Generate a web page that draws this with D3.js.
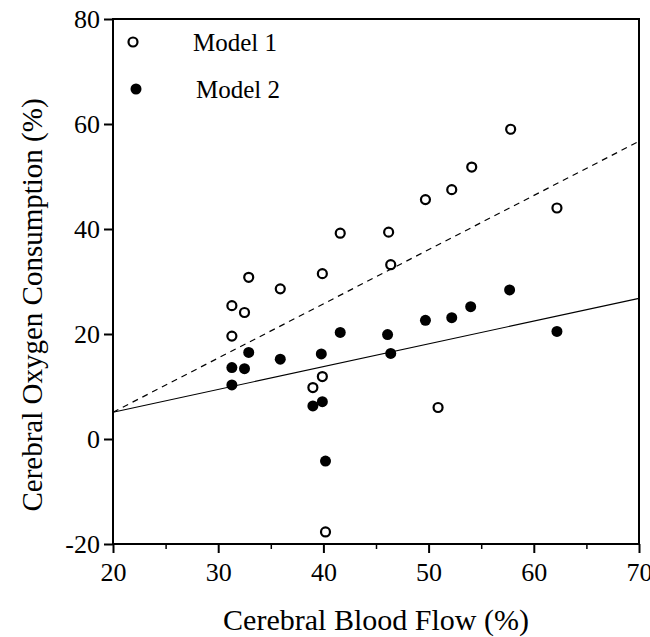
<!DOCTYPE html>
<html>
<head>
<meta charset="utf-8">
<script src="https://cdn.jsdelivr.net/npm/d3@7"></script>
<style>
  body { margin: 0; background: #fff; }
  svg text { font-family: "Liberation Serif", "Times New Roman", serif; fill: #000; }
</style>
</head>
<body>
<div id="chart"></div>
<script>
// values
const model1 = [
  [31.3, 25.4], [31.3, 19.6], [32.5, 24.1], [32.9, 30.8], [35.9, 28.6], [39.0, 9.8],
  [39.9, 11.9], [39.9, 31.5], [40.2, -17.7], [41.6, 39.2], [46.2, 39.4], [46.4, 33.2],
  [49.7, 45.6], [50.9, 6.0], [52.2, 47.5], [54.1, 51.8], [57.8, 59.0], [62.2, 44.0]
];
const model2 = [
  [31.3, 13.6], [31.3, 10.3], [32.5, 13.4], [32.9, 16.5], [35.9, 15.2], [39.0, 6.3],
  [39.9, 7.1], [39.8, 16.2], [40.2, -4.2], [41.6, 20.3], [46.1, 19.9], [46.4, 16.3],
  [49.7, 22.6], [54.0, 25.2], [52.2, 23.1], [57.7, 28.4], [62.2, 20.5]
];
const fitX = [20, 70];
const model1Fit = [5.1, 56.7];
const model2Fit = [5.1, 26.8];
const xTicks = [20, 30, 40, 50, 60, 70];
const xMinorTicks = [25, 35, 45, 55, 65];
const yTicks = [-20, 0, 20, 40, 60, 80];
const legendLabels = ["Model 1", "Model 2"];

const margin = {top: 19, right: 11, bottom: 93, left: 113};
const W = 650, H = 637;
const width = W - margin.left - margin.right;
const height = H - margin.top - margin.bottom;

const svg = d3.select("#chart").append("svg")
    .attr("width", W)
    .attr("height", H);

const g = svg.append("g")
    .attr("transform", `translate(${margin.left},${margin.top})`);

const x = d3.scaleLinear().domain([20, 70]).range([0, width]);
const y = d3.scaleLinear().domain([-20, 80]).range([height, 0]);

// plain hyphen for negatives, like the original
const fmt = d => String(d);

// minor x ticks
g.append("g")
    .attr("transform", `translate(0,${height})`)
    .call(d3.axisBottom(x).tickValues(xMinorTicks).tickSize(5).tickFormat(""))
    .call(a => a.select(".domain").remove())
    .selectAll("line").attr("stroke-width", 1.5);

// major x ticks
const xAxisG = g.append("g")
    .attr("transform", `translate(0,${height})`)
    .call(d3.axisBottom(x).tickValues(xTicks).tickSize(9).tickPadding(10).tickFormat(fmt));
xAxisG.select(".domain").remove();
xAxisG.selectAll("line").attr("stroke-width", 2);
xAxisG.selectAll("text").attr("font-size", 26);

const yAxisG = g.append("g")
    .call(d3.axisLeft(y).tickValues(yTicks).tickSize(9).tickPadding(4).tickFormat(fmt));
yAxisG.select(".domain").remove();
yAxisG.selectAll("line").attr("stroke-width", 2);
yAxisG.selectAll("text").attr("font-size", 26);

// frame
g.append("rect")
    .attr("width", width)
    .attr("height", height)
    .attr("fill", "none")
    .attr("stroke", "#000")
    .attr("stroke-width", 2);

// regression lines
const line = d3.line().x(d => x(d[0])).y(d => y(d[1]));
g.append("path")
    .datum(fitX.map((v, i) => [v, model1Fit[i]]))
    .attr("d", line)
    .attr("fill", "none")
    .attr("stroke", "#000")
    .attr("stroke-width", 1.2)
    .attr("stroke-dasharray", "6,5");
g.append("path")
    .datum(fitX.map((v, i) => [v, model2Fit[i]]))
    .attr("d", line)
    .attr("fill", "none")
    .attr("stroke", "#000")
    .attr("stroke-width", 1.2);

// points
g.append("g").selectAll("circle")
  .data(model1)
  .enter().append("circle")
    .attr("cx", d => x(d[0]))
    .attr("cy", d => y(d[1]))
    .attr("r", 4.5)
    .attr("fill", "#fff")
    .attr("stroke", "#000")
    .attr("stroke-width", 2.2);

g.append("g").selectAll("circle")
  .data(model2)
  .enter().append("circle")
    .attr("cx", d => x(d[0]))
    .attr("cy", d => y(d[1]))
    .attr("r", 5.5)
    .attr("fill", "#000");

// legend
const legend = svg.append("g");
legend.append("circle")
    .attr("cx", 133).attr("cy", 42).attr("r", 4.5)
    .attr("fill", "#fff").attr("stroke", "#000").attr("stroke-width", 2.2);
legend.append("circle")
    .attr("cx", 136).attr("cy", 89).attr("r", 5.5)
    .attr("fill", "#000");
legend.append("text")
    .attr("x", 193).attr("y", 51)
    .attr("font-size", 25)
    .text(legendLabels[0]);
legend.append("text")
    .attr("x", 196).attr("y", 98)
    .attr("font-size", 25)
    .text(legendLabels[1]);

// axis titles
svg.append("text")
    .attr("x", margin.left + width / 2)
    .attr("y", 630)
    .attr("text-anchor", "middle")
    .attr("font-size", 30)
    .text("Cerebral Blood Flow (%)");

svg.append("text")
    .attr("transform", "translate(42,305) rotate(-90)")
    .attr("text-anchor", "middle")
    .attr("font-size", 29)
    .text("Cerebral Oxygen Consumption (%)");
</script>
</body>
</html>
